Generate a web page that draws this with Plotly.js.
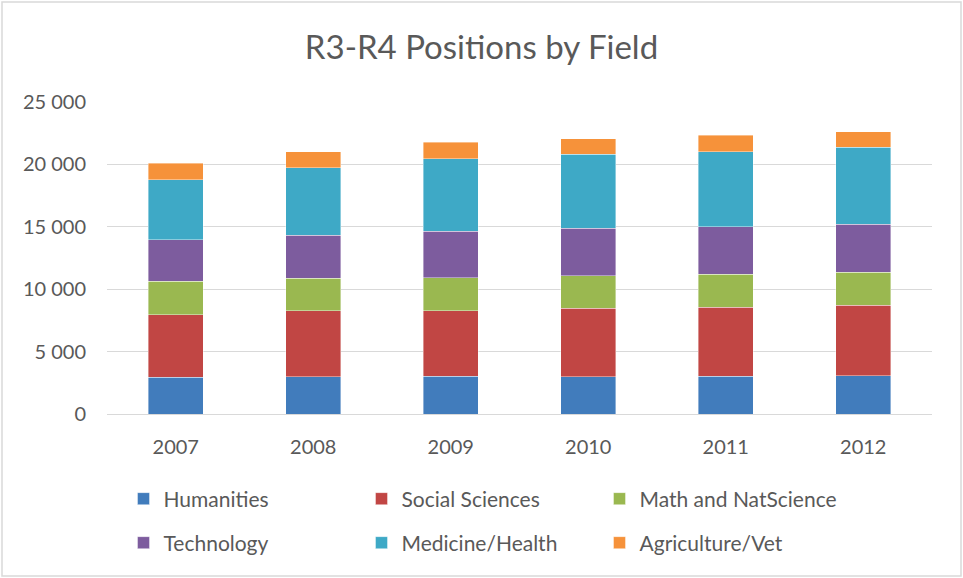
<!DOCTYPE html>
<html>
<head>
<meta charset="utf-8">
<script src="https://cdn.plot.ly/plotly-3.0.1.min.js"></script>
<style>
  html, body { margin: 0; padding: 0; background: #ffffff; }
  #chart { width: 963px; height: 578px; }
</style>
</head>
<body>
<div id="chart"></div>
<script>
const years = ['2007', '2008', '2009', '2010', '2011', '2012'];

const humanities = [2960, 2990, 3040, 2990, 3040, 3070];
const socialSciences = [5010, 5280, 5250, 5490, 5520, 5630];
const mathNatScience = [2670, 2590, 2640, 2590, 2640, 2640];
const technology = [3330, 3470, 3710, 3810, 3790, 3870];
const medicineHealth = [4800, 5410, 5810, 5920, 6030, 6160];
const agricultureVet = [1310, 1280, 1330, 1250, 1310, 1250];

const seriesNames = ['Humanities', 'Social Sciences', 'Math and NatScience',
                     'Technology', 'Medicine/Health', 'Agriculture/Vet'];
const seriesValues = [humanities, socialSciences, mathNatScience,
                      technology, medicineHealth, agricultureVet];
const seriesColors = ['#417CBC', '#C14644', '#9AB850', '#7D5C9E', '#3EA9C6', '#F6923A'];

const FONT = 'Lato, "Open Sans", "Liberation Sans", sans-serif';
const GREY = '#595959';

const traces = seriesNames.map((name, i) => ({
  type: 'bar',
  name: name,
  x: years,
  y: seriesValues[i],
  marker: { color: seriesColors[i], line: { color: 'rgba(255,255,255,0.5)', width: 0.8 } },
  legend: i < 3 ? 'legend' : 'legend2',
  hoverinfo: 'x+y+name'
}));

const legendCommon = {
  orientation: 'h',
  traceorder: 'normal',
  xanchor: 'left',
  yanchor: 'middle',
  x: 0.02,
  entrywidth: 193,
  entrywidthmode: 'pixels',
  font: { family: FONT, size: 21, color: GREY },
  bgcolor: 'rgba(0,0,0,0)',
  itemclick: false,
  itemdoubleclick: false
};

const layout = {
  width: 963,
  height: 578,
  margin: { l: 107, r: 31, t: 102, b: 164, pad: 0, autoexpand: false },
  paper_bgcolor: '#ffffff',
  plot_bgcolor: '#ffffff',
  barmode: 'stack',
  bargap: 0.6,
  separators: '. ',
  font: { family: FONT, color: GREY },
  title: {
    text: 'R3-R4 Positions by Field',
    font: { family: FONT, size: 33, color: GREY },
    x: 0.5,
    xanchor: 'center',
    y: 1 - 47 / 578,
    yanchor: 'middle'
  },
  xaxis: {
    type: 'category',
    showgrid: false,
    showline: false,
    zeroline: false,
    ticks: '',
    ticklabelstandoff: 19,
    tickfont: { family: FONT, size: 20, color: GREY }
  },
  yaxis: {
    range: [0, 25000],
    tickvals: [0, 5000, 10000, 15000, 20000, 25000],
    tickformat: ',d',
    showgrid: true,
    gridcolor: '#D9D9D9',
    gridwidth: 1,
    zeroline: true,
    zerolinecolor: '#D9D9D9',
    zerolinewidth: 1,
    showline: false,
    ticks: '',
    ticklabelstandoff: 20,
    tickfont: { family: FONT, size: 20, color: GREY }
  },
  legend: Object.assign({}, legendCommon, { y: (414 - 499) / 312 }),
  legend2: Object.assign({}, legendCommon, { y: (414 - 543) / 312 }),
  shapes: [{
    type: 'rect',
    xref: 'paper', yref: 'paper',
    x0: (2 - 107) / 825, x1: (961 - 107) / 825,
    y0: (414 - 576) / 312, y1: (414 - 2) / 312,
    line: { color: '#D9D9D9', width: 1.5 },
    fillcolor: 'rgba(0,0,0,0)',
    layer: 'below'
  }],
  showlegend: true
};

Plotly.newPlot('chart', traces, layout, { displayModeBar: false, staticPlot: true });
</script>
</body>
</html>
